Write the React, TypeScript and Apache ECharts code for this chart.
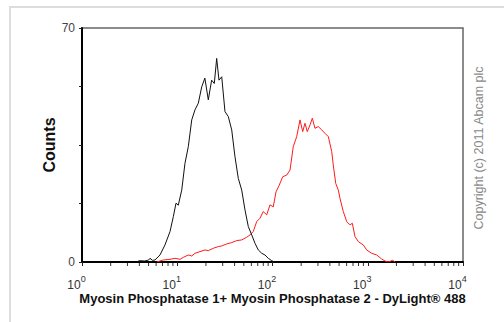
import React, { useEffect, useRef } from "react";
import * as echarts from "echarts";

// x values are log10 of fluorescence intensity (axis spans 10^0 .. 10^4)
const xTickExponents = [0, 1, 2, 3, 4];
const yLabelValues = [0, 70];
const minorTickValues = [
  2, 3, 4, 5, 6, 7, 8, 9,
  20, 30, 40, 50, 60, 70, 80, 90,
  200, 300, 400, 500, 600, 700, 800, 900,
  2000, 3000, 4000, 5000, 6000, 7000, 8000, 9000,
];

const blackLog = [
  0.58, 0.6, 0.66, 0.7, 0.714, 0.74, 0.766, 0.819, 0.871, 0.924, 0.959, 0.987,
  1.011, 1.047, 1.081, 1.116, 1.152, 1.186, 1.221, 1.257, 1.29, 1.326, 1.361,
  1.389, 1.414, 1.438, 1.467, 1.501, 1.536, 1.572, 1.606, 1.641, 1.677, 1.711,
  1.746, 1.782, 1.816, 1.851, 1.887, 1.921, 1.956, 1.992, 2.02,
];
const blackCounts = [
  0, 0.4, 0.3, 0.6, 1.1, 0.5, 0.6, 2.1, 5.1, 9.1, 13.6, 17.6,
  17, 21.5, 29.5, 34.5, 42.5, 45.5, 47.5, 52.4, 55, 48.5, 54.4,
  53.4, 60.9, 54.4, 55.4, 45, 43.5, 39.5, 31.5, 25, 21.5, 15.6,
  10.6, 8.1, 5.6, 3.6, 2.6, 2.1, 1.1, 0.4, 0,
];

const redLog = [
  0.784, 0.854, 0.924, 0.976, 1.029, 1.064, 1.116, 1.152, 1.186, 1.239, 1.291,
  1.326, 1.378, 1.431, 1.467, 1.519, 1.572, 1.624, 1.677, 1.729, 1.764, 1.798,
  1.834, 1.869, 1.903, 1.939, 1.974, 2.008, 2.037, 2.071, 2.107, 2.149, 2.184,
  2.218, 2.254, 2.289, 2.317, 2.341, 2.365, 2.394, 2.418, 2.446, 2.481, 2.517,
  2.551, 2.586, 2.622, 2.638, 2.664, 2.691, 2.709, 2.743, 2.779, 2.814, 2.838,
  2.866, 2.901, 2.953, 2.989, 3.041, 3.094, 3.146, 3.181, 3.216, 3.26, 3.29,
];
const redCounts = [
  0, 0.6, 0.8, 1.1, 0.8, 1.4, 2.1, 1.8, 2.6, 3.1, 3.6,
  3.4, 4.1, 4.6, 4.8, 5.4, 5.8, 6.4, 6.6, 7.4, 8.1, 9.1,
  12.1, 13.1, 15.1, 14.1, 17.1, 16.5, 21, 23, 25.5, 26, 27.5,
  34.5, 37.5, 42.5, 39, 41.5, 39, 41, 43, 40, 40.5, 39.5,
  38.5, 37.5, 33, 29, 23.5, 21.5, 19, 15.1, 12.1, 11.1, 11.6,
  7.6, 6.1, 5.1, 3.6, 2.6, 2.1, 0.9, 0.3, 0, 0.5, 0,
];

const FONT = "'Liberation Sans', Arial, Helvetica, sans-serif";

export default function App() {
  const ref = useRef<HTMLDivElement>(null);

  useEffect(() => {
    if (!ref.current) return;
    const chart = echarts.init(ref.current, null, { renderer: "svg" });

    const option: any = {
      animation: false,
      backgroundColor: "#ffffff",
      grid: {
        left: 82,
        right: 41,
        top: 28,
        bottom: 60,
        show: true,
        borderColor: "#666666",
        borderWidth: 1.5,
      },
      xAxis: {
        type: "value",
        min: 0,
        max: 4,
        interval: 1,
        name: "Myosin Phosphatase 1+ Myosin Phosphatase 2 - DyLight\u00ae 488",
        nameLocation: "middle",
        nameGap: 30,
        nameMoveOverlap: false,
        nameTextStyle: {
          fontFamily: FONT,
          fontWeight: "bold",
          fontSize: 13,
          color: "#111111",
        },
        splitLine: { show: false },
        axisLine: { show: true, lineStyle: { color: "#000000", width: 2 } },
        axisTick: { show: true, length: 4, lineStyle: { color: "#222222", width: 1 } },
        axisLabel: {
          margin: 12,
          align: "center",
          padding: [0, 11, 0, 0],
          formatter: (v: number) =>
            xTickExponents.indexOf(v) >= 0 ? `{b|10}{s|${v}}` : "",
          rich: {
            b: { fontFamily: FONT, fontSize: 12, color: "#333333" },
            s: { fontFamily: FONT, fontSize: 9, color: "#333333", padding: [0, 0, 12, 0] },
          },
        },
      },
      yAxis: {
        type: "value",
        min: 0,
        max: 70,
        interval: 17.5,
        name: "Counts",
        nameLocation: "middle",
        nameRotate: 90,
        nameGap: 25,
        nameMoveOverlap: false,
        nameTextStyle: {
          fontFamily: FONT,
          fontWeight: "bold",
          fontSize: 16,
          color: "#111111",
        },
        splitLine: { show: false },
        axisLine: { show: true, lineStyle: { color: "#000000", width: 2 } },
        axisTick: { show: true, length: 3, lineStyle: { color: "#222222", width: 1 } },
        axisLabel: {
          margin: 7,
          fontFamily: FONT,
          fontSize: 12,
          color: "#444444",
          formatter: (v: number) => (yLabelValues.indexOf(v) >= 0 ? String(v) : ""),
        },
      },
      graphic: [
        {
          type: "rect",
          silent: true,
          shape: { x: 10, y: 7, width: 520, height: 340 },
          style: { fill: "none", stroke: "#dddddd", lineWidth: 2 },
        },
        {
          type: "text",
          x: 479,
          y: 148,
          rotation: Math.PI / 2,
          style: {
            text: "Copyright (c) 2011 Abcam plc",
            fontFamily: FONT,
            fontSize: 12.5,
            fill: "#888888",
            align: "center",
            verticalAlign: "middle",
          },
        },
      ],
      series: [
        {
          type: "custom",
          silent: true,
          clip: false,
          data: minorTickValues.map((v) => [Math.log10(v), 0]),
          renderItem: (_params: any, api: any) => {
            const p = api.coord([api.value(0), 0]);
            return {
              type: "line",
              shape: { x1: p[0], y1: p[1] + 1, x2: p[0], y2: p[1] + 4 },
              style: { stroke: "#333333", lineWidth: 1 },
            };
          },
          z: 1,
        },
        {
          type: "line",
          data: redLog.map((x, i) => [x, redCounts[i]]),
          showSymbol: false,
          symbol: "none",
          lineStyle: { color: "#ff1a1a", width: 1 },
          z: 2,
        },
        {
          type: "line",
          data: blackLog.map((x, i) => [x, blackCounts[i]]),
          showSymbol: false,
          symbol: "none",
          lineStyle: { color: "#111111", width: 1 },
          z: 3,
        },
      ],
    };

    chart.setOption(option);
    return () => chart.dispose();
  }, []);

  return (
    <div
      ref={ref}
      style={{ position: "fixed", left: 0, top: 0, width: 504, height: 322, background: "#fff" }}
    />
  );
}
